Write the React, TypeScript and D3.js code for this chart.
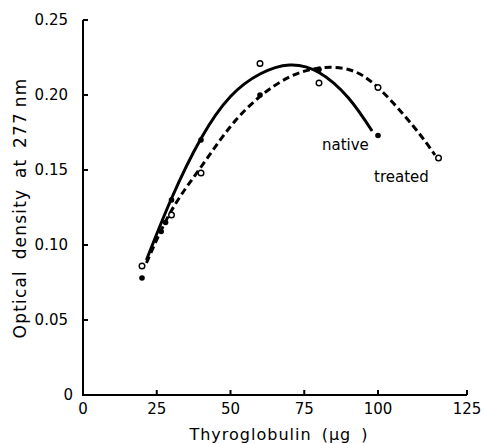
import React from "react";
import * as d3 from "d3";

// ---- data ----
const xTicks = [0, 25, 50, 75, 100, 125];
const yTicks = [0, 0.05, 0.1, 0.15, 0.2, 0.25];
const yTickLabels = ["0", "0.05", "0.10", "0.15", "0.20", "0.25"];

// measured points
const nativeX = [20, 26.5, 28, 30, 40, 60, 80, 100];
const nativeY = [0.078, 0.109, 0.115, 0.13, 0.17, 0.2, 0.217, 0.173];
const treatedX = [20, 30, 40, 60, 80, 100, 117];
const treatedY = [0.086, 0.12, 0.148, 0.221, 0.208, 0.205, 0.158];

// hand-drawn fitted curves
const nativeCurveX = [21.5, 30, 40, 50, 60, 70, 80, 90, 98];
const nativeCurveY = [0.09, 0.131, 0.171, 0.199, 0.214, 0.22, 0.215, 0.198, 0.176];
const treatedCurveX = [21.5, 30, 40, 50, 60, 70, 80, 90, 100, 110, 116];
const treatedCurveY = [0.088, 0.123, 0.152, 0.179, 0.199, 0.212, 0.218, 0.217, 0.205, 0.179, 0.16];

const W = 484;
const H = 444;

export default function App() {
  const x = d3.scaleLinear().domain([0, 100, 125]).range([83, 378, 467]);
  const y = d3.scaleLinear().domain([0, 0.25]).range([395, 20]);

  const line = d3
    .line<[number, number]>()
    .x((d) => x(d[0]))
    .y((d) => y(d[1]))
    .curve(d3.curveNatural);

  const nativePath = line(nativeCurveX.map((v, i) => [v, nativeCurveY[i]]) as [number, number][]) || "";
  const treatedPath = line(treatedCurveX.map((v, i) => [v, treatedCurveY[i]]) as [number, number][]) || "";

  const font = "'DejaVu Sans', sans-serif";

  return (
    <svg
      width={W}
      height={H}
      style={{ position: "absolute", left: 0, top: 0, background: "#fff" }}
    >
      {/* axes */}
      <g stroke="#000" strokeWidth={2} fill="none">
        <path d={`M${x(0)},${y(0.25)}V${y(0)}H${x(125)}`} />
        {yTicks.map((t) => (
          <line key={"yt" + t} x1={x(0)} x2={x(0) + 5} y1={y(t)} y2={y(t)} />
        ))}
        {xTicks.map((t) => (
          <line key={"xt" + t} x1={x(t)} x2={x(t)} y1={y(0)} y2={y(0) - 5} />
        ))}
      </g>

      {/* tick labels */}
      <g fontFamily={font} fontSize={15} fill="#000">
        {yTicks.map((t, i) => (
          <text
            key={"yl" + t}
            x={t === 0 ? 73 : 68}
            y={t === 0 ? y(t) : y(t)}
            textAnchor="end"
            dominantBaseline="central"
          >
            {yTickLabels[i]}
          </text>
        ))}
        {xTicks.map((t) => (
          <text key={"xl" + t} x={x(t)} y={414} textAnchor="middle">
            {String(t)}
          </text>
        ))}
      </g>

      {/* axis titles */}
      <text
        x={279}
        y={440}
        textAnchor="middle"
        fontFamily={font}
        fontSize={16}
        letterSpacing={1}
        wordSpacing={4}
      >
        Thyroglobulin (μg )
      </text>
      <text
        transform={`translate(26,208) rotate(-90)`}
        textAnchor="middle"
        fontFamily={font}
        fontSize={17}
        letterSpacing={1.2}
        wordSpacing={4}
      >
        {"Optical density at 277\u2009nm"}
      </text>

      {/* curves */}
      <path d={nativePath} fill="none" stroke="#000" strokeWidth={3} />
      <path
        d={treatedPath}
        fill="none"
        stroke="#000"
        strokeWidth={3}
        strokeDasharray="7 4"
      />

      {/* markers */}
      {nativeX.map((v, i) => (
        <circle key={"n" + i} cx={x(v)} cy={y(nativeY[i])} r={2.8} fill="#000" />
      ))}
      {treatedX.map((v, i) => (
        <circle
          key={"t" + i}
          cx={x(v)}
          cy={y(treatedY[i])}
          r={2.8}
          fill="#fff"
          stroke="#000"
          strokeWidth={1.4}
        />
      ))}

      {/* series labels */}
      <text x={322} y={150} fontFamily={font} fontSize={15}>
        native
      </text>
      <text x={374} y={182} fontFamily={font} fontSize={15}>
        treated
      </text>
    </svg>
  );
}
